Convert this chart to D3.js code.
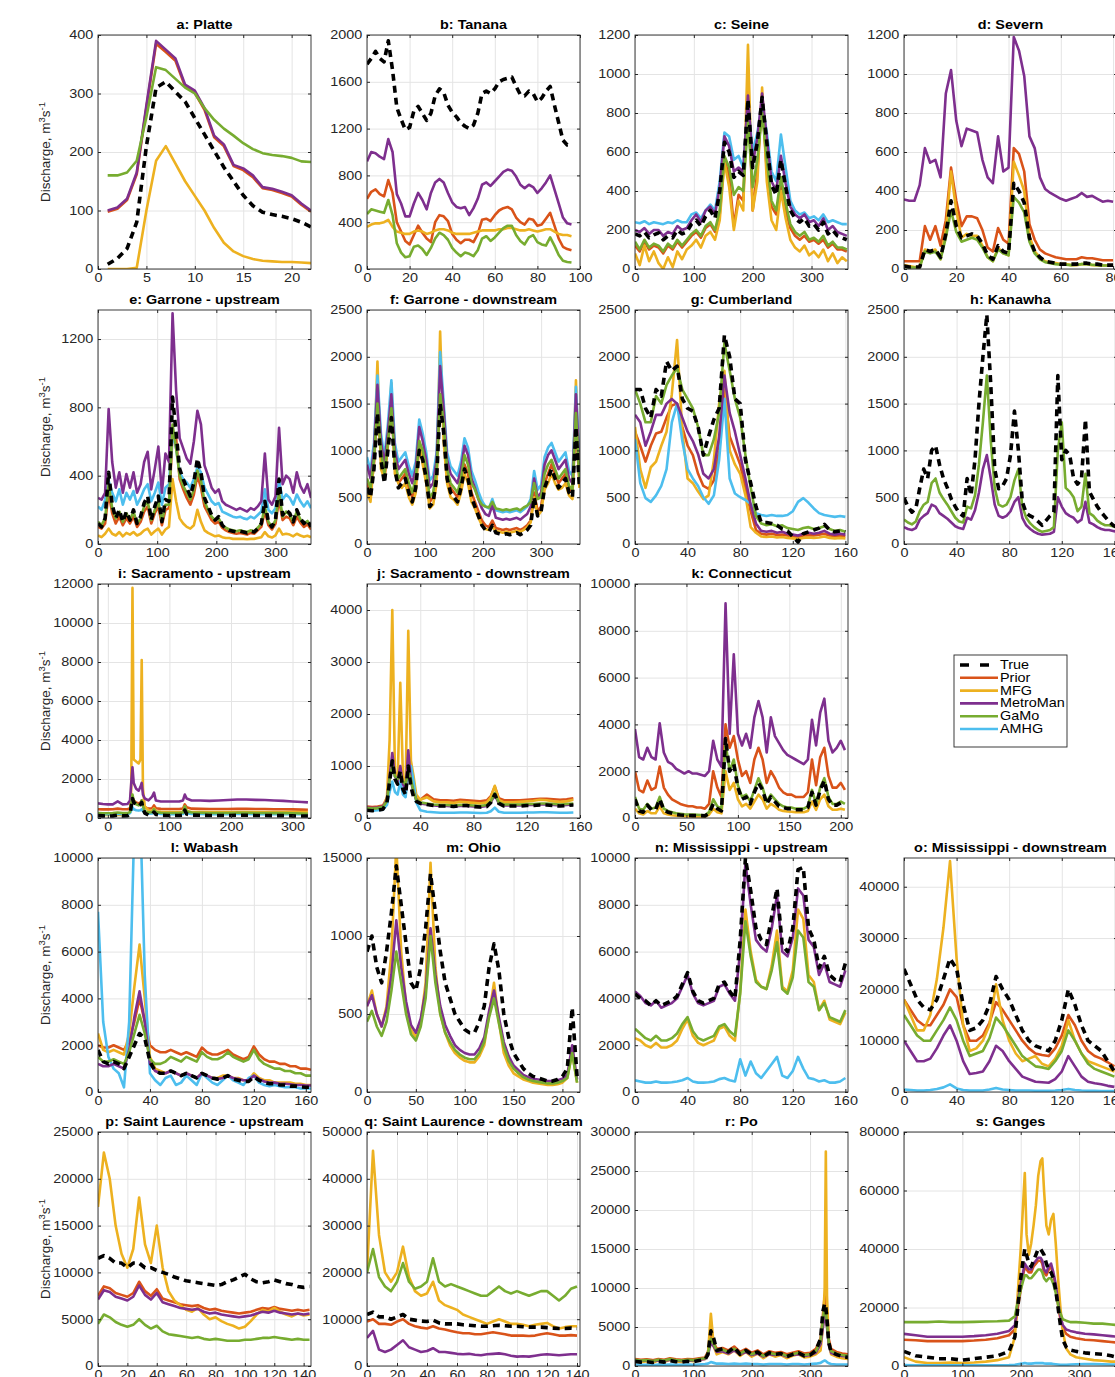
<!DOCTYPE html>
<meta charset="utf-8">
<title>Discharge small multiples</title>
<script src="https://d3js.org/d3.v7.min.js"></script>
<body style="margin:0;background:#fff">
</body>
<script>
  // legend order and colours
  const legendNames = ["True", "Prior", "MFG", "MetroMan", "GaMo", "AMHG"];
  const drawOrder = ["Prior", "MFG", "AMHG", "MetroMan", "GaMo", "True"];
  const colors = {True: "#000000", Prior: "#D95319", MFG: "#EDB120", MetroMan: "#7E2F8E", GaMo: "#77AC30", AMHG: "#4DBEEE"};

  ////////////////////////////////////////////////////////////
  ///////////////////////// Data /////////////////////////////
  ////////////////////////////////////////////////////////////

  // a: Platte (days 1..22)
  const platteTrue = [8,18,35,80,210,310,320,303,286,258,230,202,174,150,126,108,97,93,90,86,80,72];
  const plattePrior = [98,103,118,162,276,385,371,356,312,301,272,225,210,176,169,157,138,135,130,124,110,98];
  const platteMFG = [0,0,0,2,100,185,210,180,150,125,100,70,45,30,22,17,14,13,12,12,11,10];
  const platteMetroMan = [100,105,120,165,280,390,375,360,315,305,275,228,213,178,172,160,140,137,132,126,112,100];
  const platteGaMo = [160,160,165,185,260,345,340,325,310,300,275,255,240,228,215,205,198,195,193,190,184,183];
  const platteXTicks = [0,5,10,15,20], platteYTicks = [0,100,200,300,400];

  // b: Tanana (every 2 days)
  const tananaTrue = [1750,1800,1860,1800,1770,1950,1700,1380,1280,1190,1210,1350,1390,1330,1270,1330,1480,1540,1510,1400,1340,1300,1250,1220,1200,1230,1330,1500,1520,1500,1540,1600,1620,1630,1640,1560,1490,1480,1520,1500,1430,1460,1520,1560,1400,1250,1100,1060,1060];
  const tananaPrior = [600,660,680,640,620,760,650,400,320,240,210,290,370,310,260,230,400,460,450,410,300,250,220,250,250,230,300,420,430,410,460,500,520,530,510,440,400,380,430,420,370,380,430,480,370,260,190,170,160];
  const tananaMFG = [360,380,390,390,400,420,360,320,310,300,300,320,330,320,300,310,330,340,340,330,310,300,300,300,300,310,320,330,330,330,330,340,340,350,350,340,330,330,340,330,320,330,340,340,320,300,290,290,280];
  const tananaMetroMan = [920,1000,990,960,940,1110,1000,640,560,450,450,560,650,590,510,650,740,770,740,650,570,530,520,530,460,520,600,720,740,710,750,790,830,850,840,790,720,690,720,700,650,690,740,800,680,560,440,390,380];
  const tananaGaMo = [470,510,500,490,480,590,460,220,140,100,110,190,200,170,120,180,260,310,290,250,180,140,110,140,130,110,160,260,280,240,270,310,350,370,370,290,240,210,270,290,230,210,200,270,200,120,70,60,55];
  const tananaXTicks = [0,20,40,60,80,100], tananaYTicks = [0,400,800,1200,1600,2000];

  // c: Seine (every 8 days)
  const seineTrue = [180,170,190,160,175,185,150,170,160,200,180,190,230,250,220,270,300,260,400,650,600,470,500,480,870,520,650,880,650,430,380,560,420,300,260,240,260,220,230,200,240,180,200,170,160,150];
  const seinePrior = [120,90,140,100,120,110,80,120,100,140,110,140,170,190,160,210,230,190,280,560,480,220,380,350,950,300,500,880,500,320,280,430,300,210,170,150,170,140,150,130,150,110,130,100,100,90];
  const seineMFG = [80,20,120,40,90,30,0,60,10,90,50,100,120,150,110,170,190,150,250,550,420,200,350,300,1150,300,450,930,450,250,200,400,260,150,110,90,120,70,90,60,100,40,80,30,60,40];
  const seineMetroMan = [200,190,210,180,200,200,170,190,180,220,200,210,250,280,240,300,320,280,420,680,630,500,520,500,890,540,670,900,670,450,400,580,440,320,280,260,280,240,250,220,260,200,220,190,180,170];
  const seineGaMo = [140,100,150,110,130,120,90,130,110,150,120,150,180,200,170,220,240,200,300,580,520,380,420,400,750,420,560,800,560,350,300,470,340,230,190,170,190,150,160,140,170,120,140,110,110,100];
  const seineAMHG = [240,235,245,230,240,235,230,240,235,250,240,240,280,290,260,300,330,300,450,700,680,560,580,520,860,600,700,850,700,500,450,690,520,350,300,280,290,260,270,250,280,240,250,240,230,230];
  const seineXTicks = [0,100,200,300], seineYTicks = [0,200,400,600,800,1000,1200];

  // d: Severn (every 2 days)
  const severnTrue = [15,10,10,10,100,90,100,60,180,350,220,160,170,180,170,130,70,50,120,90,80,440,400,340,160,90,60,40,35,30,25,25,25,25,30,30,25,25,20,20,20];
  const severnPrior = [40,40,40,40,220,150,220,120,250,520,350,220,270,270,260,200,110,90,210,150,130,620,590,500,230,150,100,80,70,60,55,50,50,50,60,55,55,50,45,45,45];
  const severnMFG = [20,15,10,10,100,90,100,50,200,500,300,160,180,170,170,120,60,40,110,80,70,550,480,400,170,90,60,40,35,30,25,25,20,20,25,25,20,20,18,18,18];
  const severnMetroMan = [357,350,350,430,620,545,560,470,900,1020,760,630,720,710,700,560,470,440,680,500,520,1190,1120,990,680,620,470,410,390,375,360,350,360,370,390,370,375,360,345,350,345];
  const severnGaMo = [10,8,8,8,90,80,90,50,160,300,190,140,150,160,150,110,60,40,100,80,70,370,340,290,140,80,50,35,30,25,22,22,20,22,25,25,22,20,18,18,18];
  const severnXTicks = [0,20,40,60,80], severnYTicks = [0,200,400,600,800,1000,1200];

  // e: Garrone - upstream (every 6 days)
  const garUpTrue = [120,100,150,420,230,150,200,130,190,140,200,120,160,240,280,140,220,280,130,260,250,860,650,440,380,330,280,360,500,420,270,220,170,140,160,110,90,80,75,70,75,70,65,75,70,90,120,250,130,100,140,380,170,200,180,130,200,150,120,140,100];
  const garUpPrior = [100,90,120,300,180,120,160,110,150,120,160,100,130,190,220,120,180,220,110,200,210,650,620,380,320,270,230,290,400,330,220,180,140,120,130,95,80,70,65,60,65,60,55,65,60,80,100,190,110,85,120,260,140,160,150,110,160,125,100,115,85];
  const garUpMFG = [50,40,60,90,60,50,70,45,65,55,70,50,60,80,90,55,75,90,55,85,100,380,250,150,120,100,90,110,200,130,80,65,55,45,50,40,35,35,30,30,30,30,28,30,30,35,40,70,45,38,50,90,55,60,55,45,60,50,42,48,40];
  const garUpMetroMan = [270,260,300,790,480,330,420,300,410,330,420,300,350,480,540,320,440,570,300,530,480,1350,900,620,560,500,470,600,780,700,460,400,330,300,320,250,230,220,210,200,210,200,190,210,200,220,250,530,260,230,280,680,350,400,380,300,420,340,300,350,270];
  const garUpGaMo = [130,110,150,350,210,150,190,130,180,140,190,120,150,220,250,140,200,250,130,230,230,700,560,400,340,300,260,320,430,370,250,200,160,140,150,110,95,85,80,75,80,75,70,80,75,95,120,220,130,100,140,300,160,190,170,130,190,145,120,135,100];
  const garUpAMHG = [220,200,260,370,300,250,320,230,300,260,310,230,270,320,350,250,300,360,230,330,350,650,560,420,380,360,330,380,450,420,330,290,250,230,240,190,180,170,160,155,160,150,145,160,150,170,190,320,200,180,210,370,260,290,270,230,290,250,220,250,210];
  const garUpXTicks = [0,100,200,300], garUpYTicks = [0,400,800,1200];

  // f: Garrone - downstream (every 6 days)
  const garDnTrue = [600,500,800,1400,900,650,1000,1350,800,600,650,700,550,450,600,1000,900,700,400,450,700,1500,1200,700,550,500,450,600,800,700,500,400,300,200,150,130,200,120,110,100,110,100,110,120,100,120,150,200,500,300,350,600,700,800,700,600,650,700,550,500,1250,600];
  const garDnPrior = [650,550,850,1500,950,700,1050,1450,850,650,700,750,600,500,650,1050,950,750,450,500,750,1600,1250,750,600,550,500,650,850,750,550,450,350,250,200,180,250,170,160,150,160,150,160,170,150,170,200,250,550,350,400,650,750,850,750,650,700,750,600,550,1300,650];
  const garDnMFG = [550,450,900,1950,800,700,1100,1720,750,650,600,650,500,420,550,1100,850,650,380,420,650,2270,1100,650,500,470,420,550,750,650,450,380,280,200,160,150,180,140,130,120,130,120,130,140,130,150,180,230,500,300,350,580,650,750,650,580,600,650,520,480,1750,600];
  const garDnMetroMan = [850,700,1000,1700,1100,850,1200,1600,1000,800,850,900,750,650,800,1250,1100,900,600,650,900,1900,1450,900,750,700,650,800,1050,950,700,600,480,380,320,300,420,280,270,260,270,260,270,280,260,290,320,400,700,500,550,850,950,1000,900,800,850,900,700,650,1600,800];
  const garDnGaMo = [700,600,900,1500,1000,750,1100,1450,900,700,750,800,650,550,700,1100,1000,800,500,550,800,1600,1300,800,650,600,550,700,950,850,650,580,480,420,400,390,450,380,370,360,370,360,370,380,360,390,410,450,650,480,500,750,850,900,800,700,750,800,620,580,1400,700];
  const garDnAMHG = [930,780,1080,1800,1180,930,1280,1750,1080,880,930,980,830,730,880,1330,1180,980,680,730,980,2050,1520,980,830,780,730,880,1130,1030,780,680,560,460,400,380,480,360,350,340,350,340,350,360,340,370,400,480,780,580,630,930,1030,1080,980,880,930,980,780,730,1680,880];
  const garDnXTicks = [0,100,200,300], garDnYTicks = [0,500,1000,1500,2000,2500];

  // g: Cumberland (every 4 days)
  const cumbTrue = [1650,1650,1450,1350,1650,1580,1950,1850,1900,1550,1450,1420,1250,950,1150,1330,1450,2230,2000,1550,1500,900,650,400,230,230,220,200,160,140,80,20,110,130,150,170,210,150,130,140,130];
  const cumbPrior = [1200,1050,880,1050,1180,1200,1350,1480,1500,1250,1050,950,750,620,590,680,1000,1650,1150,1000,850,600,350,150,110,100,110,95,100,90,80,70,90,95,90,100,110,90,85,90,85];
  const cumbMFG = [1250,800,600,820,880,1050,1200,1600,2180,1200,700,650,560,480,520,900,1500,1850,1000,850,750,520,180,120,80,75,80,70,75,65,60,55,65,70,65,70,80,65,60,65,60];
  const cumbMetroMan = [1380,1300,1050,1200,1380,1380,1500,1550,1500,1350,1200,1100,960,750,700,800,1150,1800,1400,1200,950,700,420,220,140,130,140,120,130,110,100,90,110,120,110,120,140,110,100,110,100];
  const cumbGaMo = [1650,1500,1300,1300,1580,1500,1700,1800,1880,1650,1550,1450,1250,950,950,1120,1400,2150,1850,1550,1350,950,600,300,220,200,210,190,200,170,160,150,170,180,160,170,190,160,140,150,130];
  const cumbAMHG = [1120,650,490,450,520,620,800,1300,1500,1100,800,700,620,500,430,520,900,1550,700,540,500,470,430,330,310,300,310,300,300,310,350,450,490,440,380,330,310,300,290,300,290];
  const cumbXTicks = [0,40,80,120,160], cumbYTicks = [0,500,1000,1500,2000,2500];

  // h: Kanawha (every 3 days)
  const kanTrue = [490,400,340,380,600,800,700,1000,1050,850,700,600,480,400,330,300,700,520,900,1500,2000,2450,1700,800,590,620,700,950,1420,1000,450,330,300,280,240,200,250,300,340,1800,900,1000,950,700,640,700,1330,560,480,400,340,290,240,200,180];
  const kanMetroMan = [180,160,150,170,260,300,330,420,400,330,300,270,230,190,170,160,280,260,360,550,800,950,700,420,300,280,300,350,450,500,280,200,160,130,110,100,105,110,130,500,400,330,300,280,230,260,450,230,210,180,160,150,150,140,130];
  const kanGaMo = [260,230,210,240,350,420,450,650,700,550,480,420,350,280,240,230,400,380,520,850,1300,1800,1100,600,420,400,420,500,680,800,400,280,220,180,150,130,140,150,180,1000,1300,600,560,500,350,400,750,330,300,250,220,200,200,190,180];
  const kanXTicks = [0,40,80,120,160], kanYTicks = [0,500,1000,1500,2000,2500];

  // i: Sacramento - upstream (days listed)
  const sacUpDays = [-16,-8,0,8,16,24,32,36,38,40,42,46,50,53,55,57,60,66,72,75,78,86,96,106,116,122,125,128,136,150,165,180,195,210,225,240,255,270,285,300,315,325];
  const sacUpTrue = [120,110,100,110,150,110,120,200,600,1000,800,700,600,700,800,500,250,150,180,300,180,140,130,130,130,150,400,200,150,140,130,130,130,140,140,130,130,120,120,110,100,100];
  const sacUpPrior = [450,440,440,450,480,450,450,500,800,1000,900,800,750,800,900,700,550,480,500,650,500,470,460,460,460,480,700,550,480,470,460,460,460,470,470,460,460,450,450,440,430,420];
  const sacUpMFG = [150,140,160,150,170,150,160,300,1500,11800,3000,2900,2800,3000,8100,1500,600,400,350,500,350,320,300,300,300,320,600,350,300,300,300,300,300,300,300,300,300,300,300,300,300,300];
  const sacUpMetroMan = [750,720,700,700,850,700,720,900,1800,2600,1800,1500,1400,1600,1800,1200,1000,900,1100,1300,900,850,850,850,850,900,1200,1000,900,900,880,900,920,950,950,930,920,900,880,850,820,800];
  const sacUpGaMo = [250,240,240,250,280,250,250,300,700,1200,900,700,650,700,900,600,350,280,300,450,300,270,260,260,260,280,600,350,280,270,260,260,260,270,270,260,260,250,250,240,230,220];
  const sacUpAMHG = [200,200,190,200,220,200,200,250,400,550,450,400,380,400,450,350,250,220,230,300,230,210,200,200,200,210,350,250,210,210,200,200,200,210,210,200,200,200,200,190,190,180];
  const sacUpXTicks = [0,100,200,300], sacUpYTicks = [0,2000,4000,6000,8000,10000,12000];

  // j: Sacramento - downstream (days listed)
  const sacDnDays = [0,4,8,12,15,17,19,21,23,25,27,29,31,33,35,37,40,45,50,55,60,65,70,75,80,85,90,93,96,99,103,110,115,120,125,130,135,140,145,150,155];
  const sacDnTrue = [150,140,150,170,300,700,1100,750,650,900,550,450,1000,600,400,320,280,260,240,230,230,220,240,240,220,210,220,300,450,280,230,230,230,240,240,250,250,240,230,240,250];
  const sacDnPrior = [220,210,220,240,380,800,1100,850,750,950,700,600,1100,800,550,400,350,450,360,340,340,330,350,340,330,320,340,420,600,380,340,340,340,350,360,370,370,360,350,360,380];
  const sacDnMFG = [180,170,180,200,400,1500,4000,900,700,2600,800,600,3600,1100,800,450,350,400,320,300,300,290,310,300,290,280,300,400,620,350,300,300,310,320,330,350,340,320,310,320,350];
  const sacDnMetroMan = [200,190,200,220,350,800,1250,800,700,1000,650,550,1300,700,500,350,280,260,240,230,230,220,230,230,220,210,230,300,450,280,240,240,240,250,250,260,260,250,240,250,260];
  const sacDnGaMo = [190,180,190,210,330,750,1000,800,750,850,700,650,900,750,500,350,300,280,260,250,250,240,250,250,240,230,250,320,480,300,260,260,260,270,270,280,280,270,260,270,280];
  const sacDnAMHG = [150,140,150,160,250,500,700,500,450,700,450,400,900,1000,700,300,150,120,110,100,100,100,105,105,100,95,100,130,200,120,100,100,100,105,105,110,110,105,100,100,105];
  const sacDnXTicks = [0,40,80,120,160], sacDnYTicks = [0,1000,2000,3000,4000];

  // k: Connecticut (every 4 days)
  const connTrue = [800,300,250,550,350,350,800,350,250,200,150,130,120,110,100,100,100,90,200,600,400,300,3400,2000,2300,1300,800,900,600,1100,1500,1200,600,900,700,500,450,400,400,350,350,350,450,1100,550,1200,1600,800,550,550,650,550];
  const connPrior = [2000,1200,1100,1600,1200,1300,2200,1300,1000,800,700,600,550,500,500,450,450,400,600,2000,1300,900,4000,3000,3500,2500,1800,2000,1500,2500,3000,2500,1500,2000,1700,1300,1100,1000,1000,900,900,900,1100,2500,1400,2600,3000,1800,1300,1300,1500,1200];
  const connMFG = [400,200,150,300,200,200,500,200,150,120,100,90,80,80,70,70,70,60,150,400,250,200,2000,1200,1500,800,500,600,400,700,1000,800,400,600,500,350,300,280,270,250,250,250,300,700,350,800,1000,500,350,350,400,350];
  const connMetroMan = [3800,2600,2500,3000,2600,2500,4050,2800,2400,2300,2100,2000,1900,2000,1900,1900,1850,1800,2000,3300,2500,2200,9170,3600,7000,3600,3100,3600,3000,4300,5000,4300,2800,4300,3500,3200,2900,2700,2600,2500,2400,2300,2500,4200,3100,4500,5100,3300,2800,3000,3300,2900];
  const connGaMo = [900,400,350,600,400,450,900,400,300,250,200,180,160,150,150,140,130,120,250,800,500,400,3200,2000,2500,1400,900,1000,700,1200,1700,1300,700,1000,800,600,500,450,450,400,400,400,500,1200,600,1300,1700,900,600,600,700,600];
  const connXTicks = [0,50,100,150,200], connYTicks = [0,2000,4000,6000,8000,10000];

  // l: Wabash (every 4 days)
  const wabTrue = [1800,1300,1200,1300,1200,1000,1500,2000,2500,2300,1300,900,800,800,900,800,700,800,700,600,800,700,600,550,600,700,550,500,450,450,650,500,400,350,350,300,300,250,250,220,200,200];
  const wabPrior = [2000,1900,1900,2000,1900,1800,2200,3000,4000,3000,2000,1800,1700,1700,1800,1700,1600,1700,1600,1500,1900,1700,1600,1600,1700,1800,1600,1500,1400,1500,1950,1600,1400,1300,1300,1200,1200,1100,1100,1000,1000,950];
  const wabMFG = [2500,1800,1700,1800,1700,1600,2500,4500,6300,4000,1500,1000,900,800,900,800,700,800,700,600,800,700,600,600,700,700,600,600,500,500,800,600,500,500,400,400,400,400,350,350,300,300];
  const wabMetroMan = [1200,1100,1100,1200,1100,1000,1800,3200,4300,3000,1200,900,800,800,900,800,700,800,700,600,800,700,600,550,600,700,600,550,500,500,700,550,450,400,400,350,350,330,300,300,280,280];
  const wabGaMo = [1500,1300,1300,1400,1300,1200,1700,2500,3300,2500,1400,1200,1200,1300,1500,1400,1300,1500,1400,1300,1700,1500,1400,1400,1500,1700,1500,1400,1300,1400,1800,1400,1200,1100,1000,1000,900,900,800,800,700,700];
  const wabAMHG = [7700,3000,1500,1000,800,200,3000,11500,13000,5000,800,500,300,600,700,300,400,700,500,300,800,600,400,300,500,700,500,400,300,600,700,400,300,250,300,250,200,200,200,150,150,150];
  const wabXTicks = [0,40,80,120,160], wabYTicks = [0,2000,4000,6000,8000,10000];

  // m: Ohio (every 5 days)
  const ohioTrue = [900,1000,800,700,900,1150,1450,1200,950,700,650,800,1050,1400,1150,900,700,600,500,450,400,380,380,450,550,800,950,780,500,350,250,200,150,120,100,90,80,70,70,80,100,150,540,100];
  const ohioMFG = [550,650,500,420,550,900,1580,900,550,400,350,450,700,1470,800,500,380,300,250,220,200,190,190,230,300,500,700,450,250,170,120,100,80,70,60,55,50,45,45,50,60,90,250,60];
  const ohioMetroMan = [550,620,500,420,530,750,1100,800,580,430,380,470,650,1050,750,550,430,360,300,270,250,240,240,280,350,520,650,480,320,230,170,140,110,95,85,80,75,70,70,75,85,110,300,80];
  const ohioGaMo = [450,520,420,360,450,650,900,700,500,370,330,420,600,1000,700,500,380,320,270,240,220,210,210,250,320,480,600,440,290,200,150,120,95,80,70,65,60,55,55,60,70,90,250,60];
  const ohioXTicks = [0,50,100,150,200], ohioYTicks = [0,500,1000,1500];
  const ohioYLabels = ["0", "500", "1000", "15000"];

  // n: Mississippi - upstream (every 4 days)
  const missUpTrue = [4200,4000,3900,3700,3900,3700,3800,3900,4100,4600,5100,4300,3900,3800,3900,4000,4600,4700,4300,4000,6500,10000,8600,7000,6500,6300,7500,8700,6300,6000,7000,9500,9600,7000,6500,5300,5800,5000,4800,4700,5500];
  const missUpMFG = [2300,2200,2000,1900,2100,1900,1900,2000,2200,2700,3100,2400,2100,2000,2100,2200,2700,2800,2400,2200,4300,7800,6000,4800,4500,4400,5400,6900,4500,4300,5200,7800,7400,5000,4700,3500,3900,3100,3000,2900,3400];
  const missUpMetroMan = [4300,4100,3800,3700,3900,3600,3700,3800,4000,4500,5000,4200,3800,3700,3800,3900,4500,4600,4200,3900,6000,9800,8000,6500,6200,6000,7000,8400,6000,5800,6600,8700,8400,6500,6200,5000,5500,4700,4600,4500,5200];
  const missUpGaMo = [2700,2500,2300,2200,2400,2200,2200,2300,2500,2900,3200,2600,2300,2200,2300,2400,2800,2900,2600,2400,4200,7300,5800,4700,4500,4400,5200,6400,4400,4200,4900,6900,6600,4700,4500,3500,3800,3200,3100,3000,3500];
  const missUpAMHG = [500,450,400,400,450,400,400,420,450,500,600,450,400,400,420,450,550,600,500,450,1400,700,1300,800,600,900,1200,1500,700,600,900,1500,1000,600,550,450,500,400,400,450,600];
  const missUpXTicks = [0,40,80,120,160], missUpYTicks = [0,2000,4000,6000,8000,10000];

  // o: Mississippi - downstream (every 5 days)
  const missDnTrue = [24000,21000,18000,16500,16000,18000,22000,26000,24000,17000,12000,12500,14000,17000,22500,20000,18000,15000,12000,10000,9000,8500,8000,10000,14000,20000,17000,13000,10000,9000,8000,6000,4000];
  const missDnPrior = [18000,16000,14000,13000,13000,15000,17000,20000,18500,13000,10000,10000,11000,13500,17500,16000,14000,12000,10000,8500,7500,7200,7000,8500,11000,15000,13000,10000,8000,7000,6500,5800,5000];
  const missDnMFG = [18000,15000,12000,12000,15000,22000,32000,45000,26000,13000,8000,8500,10000,13000,21000,14000,10000,7500,6000,6500,7000,5500,5000,6500,9000,14000,10000,7500,6000,5500,5000,4500,4000];
  const missDnMetroMan = [10000,8000,6000,6000,6500,8500,11000,13000,10000,6000,3500,3700,4000,6000,9000,8000,6000,4500,3000,2500,2000,1900,1800,2500,4000,7000,5000,3000,2000,1700,1500,1200,1000];
  const missDnGaMo = [15000,13000,11000,10000,10000,12000,14000,16500,14000,10000,7000,7500,8000,10500,14500,13000,11000,9000,7000,6000,5000,4800,4500,6000,8000,12000,10000,7500,5500,4500,4000,3500,3000];
  const missDnAMHG = [500,400,300,300,400,600,900,1500,700,400,300,300,300,500,800,500,400,300,300,300,250,250,250,300,400,600,400,300,250,250,200,200,200];
  const missDnXTicks = [0,40,80,120,160], missDnYTicks = [0,10000,20000,30000,40000];

  // p: Saint Laurence - upstream (every 4 days)
  const stlUpTrue = [11500,11800,11500,11000,11000,10500,11000,11000,10500,10500,10200,10000,9800,9500,9300,9100,9000,8900,8800,8700,8600,8700,9000,9200,9500,9800,9300,9000,8900,9000,9200,9000,8800,8700,8500,8400,8500];
  const stlUpPrior = [7500,8500,8300,7800,7600,7400,7800,9000,8000,7500,8200,7200,7000,6800,6600,6500,6400,6500,6200,6000,6100,5900,5800,5700,5600,5700,5800,6000,6200,6100,6300,6100,6000,5900,6000,5900,6000];
  const stlUpMFG = [17000,22800,20000,15000,12000,10500,12500,18000,13000,11000,15000,10500,8000,7000,6500,6000,5800,6200,5500,5000,5200,4800,4500,4300,4000,4200,4800,5500,6000,5800,6200,5800,5500,5300,5600,5400,5500];
  const stlUpMetroMan = [7100,8100,7900,7400,7200,7000,7400,8600,7600,7100,7800,6800,6600,6400,6200,6100,6000,6100,5800,5600,5700,5500,5400,5300,5200,5300,5400,5600,5800,5700,5900,5700,5600,5500,5600,5500,5600];
  const stlUpGaMo = [4500,5500,5200,4700,4400,4200,4400,5000,4400,4000,4300,3700,3400,3300,3200,3100,3000,3100,2900,2800,2900,2800,2700,2700,2700,2800,2800,2900,3000,3000,3100,3000,2900,2800,2900,2800,2800];
  const stlUpXTicks = [0,20,40,60,80,100,120,140], stlUpYTicks = [0,5000,10000,15000,20000,25000];

  // q: Saint Laurence - downstream (every 4 days)
  const stlDnTrue = [11000,11500,10500,10500,10000,10500,11000,10000,9800,9600,9500,9800,9200,9000,9000,9000,8800,8700,8600,8500,8500,8600,8700,8600,8500,8500,8400,8300,8300,8300,8200,8100,8000,8000,8100,8000];
  const stlDnPrior = [9500,10000,9000,9000,8800,9500,10000,9000,8500,8200,8000,8500,8000,7800,7500,7200,7000,7000,6800,6800,7000,7200,7000,6800,6500,6500,6500,6400,6500,6800,7000,6800,6500,6500,6600,6500];
  const stlDnMFG = [20000,46000,28000,20000,18000,20000,25500,19000,16000,15000,15500,18000,14000,13000,12500,12000,11000,10500,10000,9500,9000,9500,10000,9500,9000,9000,8800,8500,8800,9000,9200,8500,8000,8300,8500,8500];
  const stlDnMetroMan = [6000,7500,3500,3000,3500,4500,5500,4000,3500,3000,3200,3800,3000,3000,2800,2600,2500,2600,2400,2300,2500,2600,2700,2500,2200,2000,2100,2000,2200,2400,2500,2400,2300,2400,2500,2500];
  const stlDnGaMo = [20000,25000,19000,17000,16000,18000,22000,18000,16500,17000,18000,23000,18000,17000,17500,17000,16500,16000,15500,15000,15000,16000,17000,16000,15500,16000,15500,15000,15500,16000,16000,15000,14000,15000,16500,17000];
  const stlDnXTicks = [0,20,40,60,80,100,120,140], stlDnYTicks = [0,10000,20000,30000,40000,50000];

  // r: Po (days listed)
  const poDays = [0,10,20,30,40,50,60,70,80,90,100,110,120,125,130,135,140,150,160,170,180,190,200,210,220,230,240,250,260,270,280,290,300,310,318,322,325,327,329,332,336,345,355,365];
  const poTrue = [600,500,550,450,600,500,700,550,500,600,550,700,800,1500,4500,3500,2000,2200,1800,2400,1500,2000,1500,1800,1200,1700,1500,1600,1200,1500,1700,1300,1400,2000,3500,7000,8000,7500,6000,3000,1800,1500,1200,1100];
  const poPrior = [900,800,850,750,900,800,1000,850,800,900,850,1000,1100,1800,3800,3000,2200,2300,2000,2500,1800,2200,1700,2000,1500,1900,1700,1800,1500,1700,1900,1600,1700,2200,3500,6500,9000,8500,7000,3500,2200,1800,1600,1500];
  const poMFG = [700,500,600,400,700,500,800,600,500,700,600,800,900,1500,6700,2500,1500,1800,1500,2000,1300,1800,1200,1600,1000,1500,1200,1400,1000,1300,1500,1100,1200,1500,2000,5000,10000,27500,9000,3000,1500,1200,1000,900];
  const poMetroMan = [700,650,700,600,700,650,800,700,650,700,700,800,900,1400,3000,2500,1800,1900,1600,2000,1500,1800,1400,1600,1200,1500,1400,1500,1200,1400,1500,1300,1400,1700,2800,5000,6500,6000,5000,2800,1700,1400,1300,1200];
  const poGaMo = [800,700,750,650,800,700,900,750,700,800,750,900,1000,1600,3500,2800,2000,2100,1800,2200,1600,2000,1500,1800,1300,1700,1500,1600,1300,1500,1700,1400,1500,1900,3200,6000,7500,7000,5500,3000,1900,1600,1400,1300];
  const poAMHG = [200,150,150,100,200,150,200,150,150,200,150,200,250,300,500,400,300,300,250,300,250,300,250,250,200,250,250,250,200,250,250,200,250,300,400,600,700,650,500,350,250,200,200,200];
  const poXTicks = [0,100,200,300], poYTicks = [0,5000,10000,15000,20000,25000,30000];

  // s: Ganges (days listed)
  const gangesDays = [0,20,40,60,80,100,120,140,160,180,190,195,200,204,207,210,214,218,222,226,230,234,237,240,244,248,252,256,260,264,268,272,278,285,295,310,325,340,355,365];
  const gangesTrue = [5000,3500,3000,2500,2500,2000,2500,3000,3500,5000,10000,20000,30000,36000,40000,38000,35000,34000,36000,38000,40000,40000,39000,38000,35000,33000,32000,30000,26000,20000,14000,9000,6500,5500,5000,4500,4200,4000,3500,3000];
  const gangesPrior = [9000,8800,8500,8500,8500,8500,8700,9000,9500,10500,12500,20000,26000,31000,34000,33000,32000,32000,34000,35000,36000,36000,35000,32000,31000,33000,34000,31000,27000,21000,16000,13000,11000,10000,9500,9000,8800,8500,8200,8000];
  const gangesMFG = [3000,1500,1000,1000,1200,1000,1200,1500,2000,3000,10000,25000,40000,55000,66000,45000,38000,42000,48000,55000,65000,70000,71000,60000,48000,45000,50000,52000,42000,30000,20000,12000,6000,4000,3000,2500,2000,1800,1500,1500];
  const gangesMetroMan = [11000,10500,10000,10000,10000,10000,10200,10500,11000,12000,14000,22000,28000,32000,35000,34000,33000,33000,35000,36000,37000,37000,36000,33000,32000,34000,35000,32000,28000,22000,17000,14000,12500,12000,11500,11000,10800,10500,10200,10000];
  const gangesGaMo = [15000,15000,15000,15200,15000,15000,15100,15200,15300,15500,17000,22000,26000,29000,31000,31000,30000,30000,31000,32000,33000,33000,32000,30000,29000,30000,30000,28000,25000,21000,18000,16000,15500,15000,15000,14800,14500,14500,14200,14000];
  const gangesAMHG = [300,250,200,200,200,200,200,250,250,300,400,600,800,900,1000,900,800,800,900,1000,1000,1000,1000,900,800,800,800,700,600,500,400,400,400,500,600,700,700,600,500,500];
  const gangesXTicks = [0,100,200,300], gangesYTicks = [0,20000,40000,60000,80000];

  ////////////////////////////////////////////////////////////
  //////////////////////// Panels ////////////////////////////
  ////////////////////////////////////////////////////////////

  const panels = [
    {title: "a: Platte", col: 0, row: 0, xDomain: [0, 22], yDomain: [0, 400], xTicks: platteXTicks, yTicks: platteYTicks, x0: 1, dx: 1,
     series: {True: platteTrue, Prior: plattePrior, MFG: platteMFG, MetroMan: platteMetroMan, GaMo: platteGaMo}},
    {title: "b: Tanana", col: 1, row: 0, xDomain: [0, 100], yDomain: [0, 2000], xTicks: tananaXTicks, yTicks: tananaYTicks, x0: 0, dx: 2,
     series: {True: tananaTrue, Prior: tananaPrior, MFG: tananaMFG, MetroMan: tananaMetroMan, GaMo: tananaGaMo}},
    {title: "c: Seine", col: 2, row: 0, xDomain: [0, 362], yDomain: [0, 1200], xTicks: seineXTicks, yTicks: seineYTicks, x0: 0, dx: 8,
     series: {True: seineTrue, Prior: seinePrior, MFG: seineMFG, MetroMan: seineMetroMan, GaMo: seineGaMo, AMHG: seineAMHG}},
    {title: "d: Severn", col: 3, row: 0, xDomain: [0, 81.5], yDomain: [0, 1200], xTicks: severnXTicks, yTicks: severnYTicks, x0: 0, dx: 2,
     series: {True: severnTrue, Prior: severnPrior, MFG: severnMFG, MetroMan: severnMetroMan, GaMo: severnGaMo}},
    {title: "e: Garrone - upstream", col: 0, row: 1, xDomain: [0, 360], yDomain: [0, 1370], xTicks: garUpXTicks, yTicks: garUpYTicks, x0: 0, dx: 6,
     series: {True: garUpTrue, Prior: garUpPrior, MFG: garUpMFG, MetroMan: garUpMetroMan, GaMo: garUpGaMo, AMHG: garUpAMHG}},
    {title: "f: Garrone - downstream", col: 1, row: 1, xDomain: [0, 367], yDomain: [0, 2500], xTicks: garDnXTicks, yTicks: garDnYTicks, x0: 0, dx: 6,
     series: {True: garDnTrue, Prior: garDnPrior, MFG: garDnMFG, MetroMan: garDnMetroMan, GaMo: garDnGaMo, AMHG: garDnAMHG}},
    {title: "g: Cumberland", col: 2, row: 1, xDomain: [0, 162], yDomain: [0, 2500], xTicks: cumbXTicks, yTicks: cumbYTicks, x0: 0, dx: 4,
     series: {True: cumbTrue, Prior: cumbPrior, MFG: cumbMFG, MetroMan: cumbMetroMan, GaMo: cumbGaMo, AMHG: cumbAMHG}},
    {title: "h: Kanawha", col: 3, row: 1, xDomain: [0, 162], yDomain: [0, 2500], xTicks: kanXTicks, yTicks: kanYTicks, x0: 0, dx: 3,
     series: {True: kanTrue, MetroMan: kanMetroMan, GaMo: kanGaMo}},
    {title: "i: Sacramento - upstream", col: 0, row: 2, xDomain: [-16, 330], yDomain: [0, 12000], xTicks: sacUpXTicks, yTicks: sacUpYTicks, xs: sacUpDays,
     series: {True: sacUpTrue, Prior: sacUpPrior, MFG: sacUpMFG, MetroMan: sacUpMetroMan, GaMo: sacUpGaMo, AMHG: sacUpAMHG}},
    {title: "j: Sacramento - downstream", col: 1, row: 2, xDomain: [0, 160], yDomain: [0, 4500], xTicks: sacDnXTicks, yTicks: sacDnYTicks, xs: sacDnDays,
     series: {True: sacDnTrue, Prior: sacDnPrior, MFG: sacDnMFG, MetroMan: sacDnMetroMan, GaMo: sacDnGaMo, AMHG: sacDnAMHG}},
    {title: "k: Connecticut", col: 2, row: 2, xDomain: [0, 207], yDomain: [0, 10000], xTicks: connXTicks, yTicks: connYTicks, x0: 0, dx: 4,
     series: {True: connTrue, Prior: connPrior, MFG: connMFG, MetroMan: connMetroMan, GaMo: connGaMo}},
    {title: "l: Wabash", col: 0, row: 3, xDomain: [0, 164], yDomain: [0, 10000], xTicks: wabXTicks, yTicks: wabYTicks, x0: 0, dx: 4,
     series: {True: wabTrue, Prior: wabPrior, MFG: wabMFG, MetroMan: wabMetroMan, GaMo: wabGaMo, AMHG: wabAMHG}},
    {title: "m: Ohio", col: 1, row: 3, xDomain: [0, 218], yDomain: [0, 1500], xTicks: ohioXTicks, yTicks: ohioYTicks, x0: 0, dx: 5,
     yLabels: ohioYLabels,
     series: {True: ohioTrue, MFG: ohioMFG, MetroMan: ohioMetroMan, GaMo: ohioGaMo}},
    {title: "n: Mississippi - upstream", col: 2, row: 3, xDomain: [0, 162], yDomain: [0, 10000], xTicks: missUpXTicks, yTicks: missUpYTicks, x0: 0, dx: 4,
     series: {True: missUpTrue, MFG: missUpMFG, MetroMan: missUpMetroMan, GaMo: missUpGaMo, AMHG: missUpAMHG}},
    {title: "o: Mississippi - downstream", col: 3, row: 3, xDomain: [0, 162], yDomain: [0, 45600], xTicks: missDnXTicks, yTicks: missDnYTicks, x0: 0, dx: 5,
     series: {True: missDnTrue, Prior: missDnPrior, MFG: missDnMFG, MetroMan: missDnMetroMan, GaMo: missDnGaMo, AMHG: missDnAMHG}},
    {title: "p: Saint Laurence - upstream", col: 0, row: 4, xDomain: [0, 145], yDomain: [0, 25000], xTicks: stlUpXTicks, yTicks: stlUpYTicks, x0: 0, dx: 4,
     series: {True: stlUpTrue, Prior: stlUpPrior, MFG: stlUpMFG, MetroMan: stlUpMetroMan, GaMo: stlUpGaMo}},
    {title: "q: Saint Laurence - downstream", col: 1, row: 4, xDomain: [0, 142], yDomain: [0, 50000], xTicks: stlDnXTicks, yTicks: stlDnYTicks, x0: 0, dx: 4,
     series: {True: stlDnTrue, Prior: stlDnPrior, MFG: stlDnMFG, MetroMan: stlDnMetroMan, GaMo: stlDnGaMo}},
    {title: "r: Po", col: 2, row: 4, xDomain: [0, 365], yDomain: [0, 30000], xTicks: poXTicks, yTicks: poYTicks, xs: poDays,
     series: {True: poTrue, Prior: poPrior, MFG: poMFG, MetroMan: poMetroMan, GaMo: poGaMo, AMHG: poAMHG}},
    {title: "s: Ganges", col: 3, row: 4, xDomain: [0, 365], yDomain: [0, 80000], xTicks: gangesXTicks, yTicks: gangesYTicks, xs: gangesDays,
     series: {True: gangesTrue, Prior: gangesPrior, MFG: gangesMFG, MetroMan: gangesMetroMan, GaMo: gangesGaMo, AMHG: gangesAMHG}}
  ];

  ////////////////////////////////////////////////////////////
  //////////////////////// Layout ////////////////////////////
  ////////////////////////////////////////////////////////////

  const width = 1115, height = 1377;
  const colLeft = [98, 367, 635, 904];
  const rowTop = [35, 310, 584, 858, 1132];
  const pw = 213, ph = 234;
  const font = "'Liberation Sans', Arial, sans-serif";
  const axisColor = "#262626";
  const stretch = "scale(1.2,1)"; // the reference is horizontally stretched

  const svg = d3.select("body").append("svg")
      .attr("width", width).attr("height", height)
      .style("font-family", font);

  panels.forEach((p, pi) => {
    const left = colLeft[p.col], top = rowTop[p.row];
    const x = d3.scaleLinear().domain(p.xDomain).range([left, left + pw]);
    const y = d3.scaleLinear().domain(p.yDomain).range([top + ph, top]);
    const g = svg.append("g");

    g.append("rect").attr("x", left).attr("y", top).attr("width", pw).attr("height", ph).attr("fill", "#fff");

    // grid
    g.append("g").attr("transform", `translate(0,${top + ph})`)
        .call(d3.axisBottom(x).tickValues(p.xTicks).tickSize(-ph).tickFormat(""))
        .call(a => a.select(".domain").remove())
        .call(a => a.selectAll("line").attr("stroke", "#e4e4e4"));
    g.append("g").attr("transform", `translate(${left},0)`)
        .call(d3.axisLeft(y).tickValues(p.yTicks).tickSize(-pw).tickFormat(""))
        .call(a => a.select(".domain").remove())
        .call(a => a.selectAll("line").attr("stroke", "#e4e4e4"));

    // lines
    const clipId = "clip" + pi;
    svg.append("clipPath").attr("id", clipId).append("rect")
        .attr("x", left).attr("y", top).attr("width", pw).attr("height", ph);
    const line = d3.line()
        .x((d, k) => x(p.xs ? p.xs[k] : p.x0 + k * p.dx))
        .y(d => y(d))
        .curve(d3.curveLinear);
    drawOrder.forEach(name => {
      const vals = p.series[name];
      if (!vals) return;
      g.append("path")
          .attr("clip-path", `url(#${clipId})`)
          .attr("d", line(vals))
          .attr("fill", "none")
          .attr("stroke", colors[name])
          .attr("stroke-width", name === "True" ? 3.6 : 2.6)
          .attr("stroke-dasharray", name === "True" ? "7,5" : null)
          .attr("stroke-linejoin", "round");
    });

    // axes with labels (ticks pointing inward)
    const yFmt = p.yLabels ? (d => p.yLabels[p.yTicks.indexOf(d)]) : (d => String(d));
    const styleAxis = a => {
      a.attr("font-size", 12).attr("font-family", font).attr("color", axisColor);
      a.select(".domain").remove();
      a.selectAll("text").attr("transform", stretch);
    };
    g.append("g").attr("transform", `translate(${left},0)`)
        .call(d3.axisLeft(y).tickValues(p.yTicks).tickSizeInner(-3).tickSizeOuter(0).tickPadding(4).tickFormat(yFmt))
        .call(styleAxis);
    g.append("g").attr("transform", `translate(0,${top + ph})`)
        .call(d3.axisBottom(x).tickValues(p.xTicks).tickSizeInner(-3).tickSizeOuter(0).tickPadding(4).tickFormat(d => String(d)))
        .call(styleAxis);
    g.append("g").attr("transform", `translate(${left + pw},0)`)
        .call(d3.axisRight(y).tickValues(p.yTicks).tickSizeInner(-3).tickSizeOuter(0).tickFormat(""))
        .call(styleAxis);
    g.append("g").attr("transform", `translate(0,${top})`)
        .call(d3.axisTop(x).tickValues(p.xTicks).tickSizeInner(-3).tickSizeOuter(0).tickFormat(""))
        .call(styleAxis);

    g.append("rect").attr("x", left).attr("y", top).attr("width", pw).attr("height", ph)
        .attr("fill", "none").attr("stroke", axisColor).attr("stroke-width", 0.9);

    // title
    g.append("text")
        .attr("transform", `translate(${left + pw / 2},${top - 6}) ${stretch}`)
        .attr("text-anchor", "middle")
        .attr("font-size", 12).attr("font-weight", "bold").attr("fill", "#000")
        .text(p.title);

    // y label on first column
    if (p.col === 0) {
      const t = g.append("text")
          .attr("transform", `translate(50,${top + ph / 2}) rotate(-90)`)
          .attr("text-anchor", "middle")
          .attr("font-size", 13.5).attr("fill", axisColor);
      t.append("tspan").text("Discharge, m");
      t.append("tspan").attr("dy", -5).attr("font-size", 9.5).text("3");
      t.append("tspan").attr("dy", 5).text("s");
      t.append("tspan").attr("dy", -5).attr("font-size", 9.5).text("-1");
    }
  });

  ////////////////////////////////////////////////////////////
  //////////////////////// Legend ////////////////////////////
  ////////////////////////////////////////////////////////////

  const lg = svg.append("g");
  lg.append("rect").attr("x", 954).attr("y", 655).attr("width", 113).attr("height", 92)
      .attr("fill", "#fff").attr("stroke", axisColor).attr("stroke-width", 0.9);
  legendNames.forEach((name, i) => {
    const ly = 665 + i * 12.8;
    lg.append("line").attr("x1", 960).attr("x2", 998).attr("y1", ly).attr("y2", ly)
        .attr("stroke", colors[name])
        .attr("stroke-width", name === "True" ? 3.6 : 2.6)
        .attr("stroke-dasharray", name === "True" ? "9,11" : null);
    lg.append("text")
        .attr("transform", `translate(1000,${ly + 4}) ${stretch}`)
        .attr("font-size", 12).attr("fill", "#000")
        .text(name);
  });
</script>
